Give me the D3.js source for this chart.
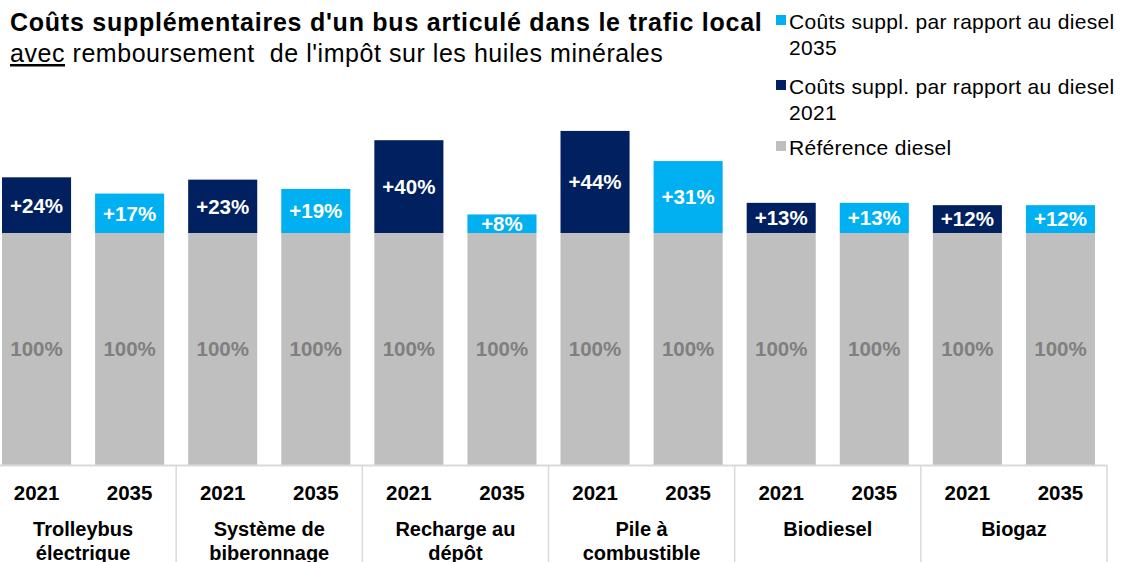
<!DOCTYPE html>
<html>
<head>
<meta charset="utf-8">
<script src="https://cdn.jsdelivr.net/npm/d3@7"></script>
<style>
  body { margin: 0; background: #fff; }
  svg text { font-family: "Liberation Sans", Arial, sans-serif; }
</style>
</head>
<body>
<div id="canvas"></div>
<script>
// data
let groups = ["Trolleybus électrique", "Système de biberonnage", "Recharge au dépôt", "Pile à combustible", "Biodiesel", "Biogaz"];
let groupLines = [["Trolleybus", "électrique"], ["Système de", "biberonnage"], ["Recharge au", "dépôt"], ["Pile à", "combustible"], ["Biodiesel"], ["Biogaz"]];
let years = ["2021", "2035"];
let baseValues = [100, 100, 100, 100, 100, 100];
let extra2021 = [24, 23, 40, 44, 13, 12];
let extra2035 = [17, 19, 8, 31, 13, 12];
let legendItems = [
    { lines: ["Coûts suppl. par rapport au diesel", "2035"], color: "#00b0f0" },
    { lines: ["Coûts suppl. par rapport au diesel", "2021"], color: "#002060" },
    { lines: ["Référence diesel"], color: "#bfbfbf" }
];

let W = 1122, H = 562;
let drawing = d3.select("#canvas").append("svg")
    .attr("width", W)
    .attr("height", H);

let baseY = 465;

// scales
let x0 = d3.scaleBand().domain(groups).range([-10, 1107]).paddingInner(0).paddingOuter(0);
let x1 = d3.scaleBand().domain(years).range([0, x0.bandwidth()]).paddingInner(0.258).paddingOuter(0.129);
let y = d3.scaleLinear().domain([0, 100]).range([baseY, 233]);

// rows: one per bar
let rows = [];
groups.forEach((g, i) => {
    rows.push({ group: g, year: "2021", base: baseValues[i], extra: extra2021[i], color: "#002060" });
    rows.push({ group: g, year: "2035", base: baseValues[i], extra: extra2035[i], color: "#00b0f0" });
});

let bars = drawing.append("g");

// gray reference
bars.selectAll("rect.base").data(rows).join("rect")
    .attr("class", "base")
    .attr("x", d => x0(d.group) + x1(d.year))
    .attr("width", x1.bandwidth())
    .attr("y", d => y(d.base))
    .attr("height", d => y(0) - y(d.base))
    .attr("fill", "#bfbfbf");

// additional costs
bars.selectAll("rect.extra").data(rows).join("rect")
    .attr("class", "extra")
    .attr("x", d => x0(d.group) + x1(d.year))
    .attr("width", x1.bandwidth())
    .attr("y", d => y(d.base + d.extra))
    .attr("height", d => y(d.base) - y(d.base + d.extra))
    .attr("fill", d => d.color);

// labels
bars.selectAll("text.base").data(rows).join("text")
    .attr("class", "base")
    .attr("x", d => x0(d.group) + x1(d.year) + x1.bandwidth() / 2)
    .attr("y", d => (y(0) + y(d.base)) / 2)
    .attr("dy", "0.36em")
    .attr("text-anchor", "middle")
    .attr("font-size", 20.5)
    .attr("font-weight", "bold")
    .attr("fill", "#7f7f7f")
    .text(d => d.base + "%");

bars.selectAll("text.extra").data(rows).join("text")
    .attr("class", "extra")
    .attr("x", d => x0(d.group) + x1(d.year) + x1.bandwidth() / 2)
    .attr("y", d => (y(d.base) + y(d.base + d.extra)) / 2)
    .attr("dy", "0.36em")
    .attr("text-anchor", "middle")
    .attr("font-size", 20.5)
    .attr("font-weight", "bold")
    .attr("fill", "#fff")
    .text(d => "+" + d.extra + "%");

// axis line + separators
let axisColor = "#d9d9d9";
drawing.append("line")
    .attr("x1", x0.range()[0]).attr("x2", x0.range()[1])
    .attr("y1", baseY + 0.5).attr("y2", baseY + 0.5)
    .attr("stroke", axisColor).attr("stroke-width", 2);

let seps = groups.map(g => x0(g)).concat([x0.range()[1]]);
drawing.selectAll("line.sep").data(seps).join("line")
    .attr("class", "sep")
    .attr("x1", d => d).attr("x2", d => d)
    .attr("y1", baseY).attr("y2", H)
    .attr("stroke", axisColor).attr("stroke-width", 1.5);

// year labels
drawing.selectAll("text.year").data(rows).join("text")
    .attr("class", "year")
    .attr("x", d => x0(d.group) + x1(d.year) + x1.bandwidth() / 2)
    .attr("y", 500)
    .attr("text-anchor", "middle")
    .attr("font-size", 20.5)
    .attr("font-weight", "bold")
    .attr("fill", "#000")
    .text(d => d.year);

// group labels (second line is cut by the bottom edge, as in the original)
let gl = drawing.selectAll("text.group").data(groups).join("text")
    .attr("class", "group")
    .attr("x", d => x0(d) + x0.bandwidth() / 2)
    .attr("y", 536)
    .attr("text-anchor", "middle")
    .attr("font-size", 20)
    .attr("font-weight", "bold")
    .attr("fill", "#000");
gl.each(function (d, i) {
    d3.select(this).selectAll("tspan").data(groupLines[i]).join("tspan")
        .attr("x", x0(d) + x0.bandwidth() / 2)
        .attr("dy", (t, j) => j === 0 ? 0 : 24)
        .text(t => t);
});

// title
drawing.append("text")
    .attr("x", 10).attr("y", 31)
    .attr("font-size", 25)
    .attr("font-weight", "bold")
    .attr("letter-spacing", 0.75)
    .attr("fill", "#000")
    .text("Coûts supplémentaires d'un bus articulé dans le trafic local");

let sub = drawing.append("text")
    .attr("x", 10).attr("y", 62)
    .attr("font-size", 25)
    .attr("letter-spacing", 0.55)
    .attr("fill", "#000")
    .attr("xml:space", "preserve")
    .style("white-space", "pre");
sub.append("tspan").attr("text-decoration", "underline").text("avec");
sub.append("tspan").text(" remboursement  de l'impôt sur les huiles minérales");

// legend
let legendTop = [29, 94, 155];
let lg = drawing.selectAll("g.legend").data(legendItems).join("g")
    .attr("class", "legend")
    .attr("transform", (d, i) => `translate(776, ${legendTop[i]})`);
lg.append("rect")
    .attr("x", 0).attr("y", -14)
    .attr("width", 10).attr("height", 10)
    .attr("fill", d => d.color);
lg.append("text")
    .attr("x", 13).attr("y", 0)
    .attr("font-size", 21)
    .attr("letter-spacing", 0.3)
    .attr("fill", "#000")
    .selectAll("tspan").data(d => d.lines).join("tspan")
    .attr("x", 13)
    .attr("dy", (t, j) => j === 0 ? 0 : 26)
    .text(t => t);
</script>
</body>
</html>
